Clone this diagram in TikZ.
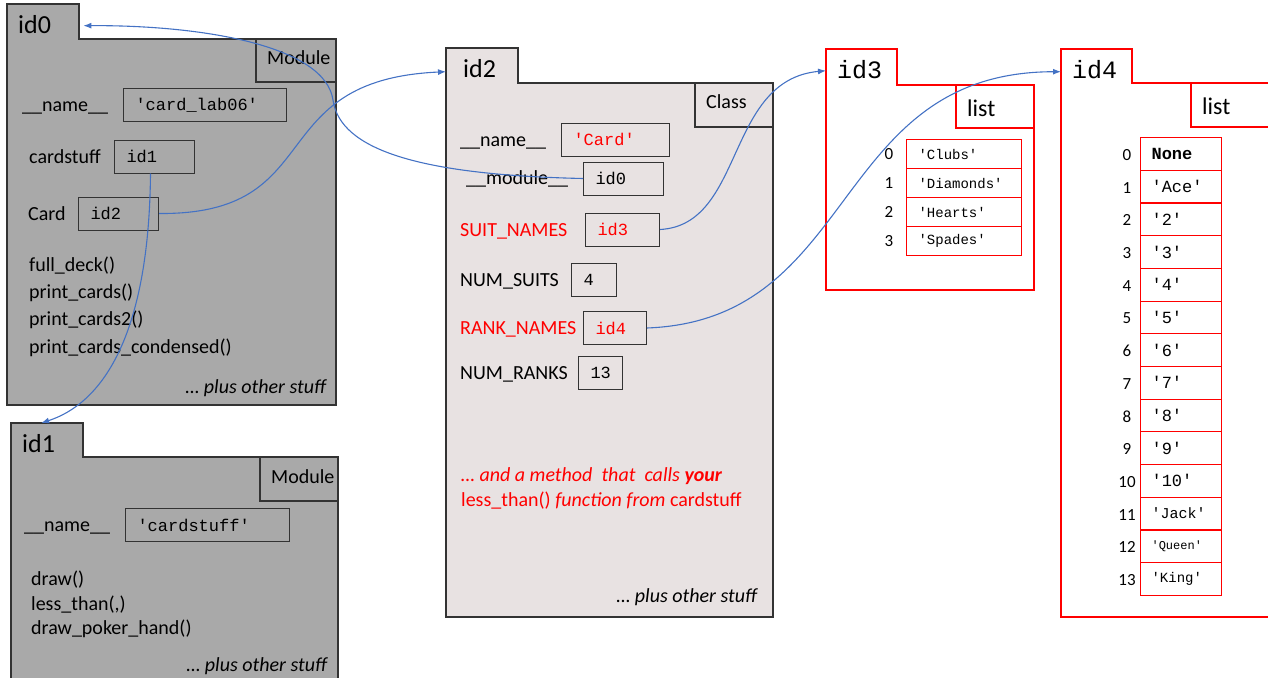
\documentclass[tikz,border=0pt]{standalone}
\usepackage{fontspec}
\setmainfont{Carlito}
\setmonofont{Liberation Mono}
\usetikzlibrary{arrows.meta}

\definecolor{modgray}{HTML}{A9A9A9}
\definecolor{clsgray}{HTML}{E8E2E2}
\definecolor{refblue}{HTML}{4472C4}
\definecolor{listred}{HTML}{FF0000}

\tikzset{
  frame/.style={draw=black!80,line width=1.3pt},
  redframe/.style={draw=listred,line width=1.5pt},
  tab/.style={anchor=north west,minimum height=35pt,inner xsep=11pt,inner ysep=0pt,
    text width=50pt,align=left,text height=24pt,text depth=0pt,font=\fontsize{26}{30}\selectfont},
  lbl/.style={anchor=west,inner sep=0pt,text height=16pt,text depth=4pt,font=\fontsize{20}{24}\selectfont},
  more/.style={lbl,anchor=east,font=\fontsize{20}{24}\selectfont\itshape},
  slot/.style={draw=black!80,line width=1pt,anchor=west,minimum height=33pt,inner xsep=12pt,
    inner ysep=0pt,align=left,font=\ttfamily\fontsize{17}{20}\selectfont},
  cell/.style={draw=listred,line width=1.1pt,anchor=north west,inner xsep=12pt,inner ysep=0pt,
    align=left,font=\ttfamily\fontsize{14}{16}\selectfont},
  idx/.style={inner sep=0pt,font=\fontsize{17}{20}\selectfont},
  ptr/.style={draw=refblue,line width=1.1pt,-{Latex[length=8pt,width=6pt]}}
}

\begin{document}
\begin{tikzpicture}[x=1pt,y=-1pt]
    \useasboundingbox (0,0) rectangle (1268,677);
    \draw [frame,fill=modgray] (7,4) -- (79,4) -- (79,39) -- (336,39) -- (336,405) -- (7,405) -- cycle;
    \draw [frame] (256,39) rectangle (336,82);
    \draw [frame,fill=modgray] (11,423) -- (83,423) -- (83,457) -- (338,457) -- (338,690) -- (11,690) -- cycle;
    \draw [frame] (260,457) rectangle (338,501);
    \draw [frame,fill=clsgray] (446,48) -- (518,48) -- (518,83) -- (773,83) -- (773,617) -- (446,617) -- cycle;
    \draw [frame] (695,83) rectangle (773,127);
    \draw [redframe] (826,49) -- (897,49) -- (897,85) -- (1034,85) -- (1034,290) -- (826,290) -- cycle;
    \draw [redframe] (956,85) rectangle (1034,128);
    \draw [redframe] (1061,49) -- (1132,49) -- (1132,83) -- (1280,83) -- (1280,617) -- (1061,617) -- cycle;
    \draw [redframe] (1191,83) rectangle (1280,127);

    \node [tab] (id0tab) at (7,4) {id0};
    \node [lbl] (ty0) at (267,58) {Module};
    \node [lbl] (nm0) at (22,105) {\_\_name\_\_};
    \node [slot,text width=139pt] (s00) at (123,105) {'card\_lab06'};
    \node [lbl] (cs0) at (29,157) {cardstuff};
    \node [slot,text width=56pt] (s01) at (114,156.5) {id1};
    \node [lbl] (cd0) at (28,214) {Card};
    \node [slot,text width=56pt] (s02) at (78,213.5) {id2};
    \node [lbl] (f0) at (29,265) {full\_deck()};
    \node [lbl] (f1) at (29,292) {print\_cards()};
    \node [lbl] (f2) at (29,319) {print\_cards2()};
    \node [lbl] (f3) at (29,347) {print\_cards\_condensed()};
    \node [more] (po0) at (326,387) {… plus other stuff};

    \node [tab] (id1tab) at (11,423) {id1};
    \node [lbl] (ty1) at (271,477) {Module};
    \node [lbl] (nm1) at (24,525) {\_\_name\_\_};
    \node [slot,text width=140pt] (s10) at (125,525) {'cardstuff'};
    \node [lbl] (g0) at (31,579) {draw()};
    \node [lbl] (g1) at (31,604) {less\_than(,)};
    \node [lbl] (g2) at (31,628) {draw\_poker\_hand()};
    \node [more] (po1) at (327,665) {… plus other stuff};

    \node [tab] (id2tab) at (446,48) {\hspace{6pt}id2};
    \node [lbl] (ty2) at (706,102) {Class};
    \node [lbl] (nm2) at (460,140) {\_\_name\_\_};
    \node [slot,text width=84pt,text=listred] (s2n) at (561,139.5) {'Card'};
    \node [lbl] (md2) at (466,178) {\_\_module\_\_};
    \node [slot,text width=56pt] (s20) at (583,178.5) {id0};
    \node [lbl,text=listred] (sn2) at (460,230) {SUIT\_NAMES};
    \node [slot,text width=50pt,text=listred] (s23) at (585,229.5) {id3};
    \node [lbl] (ns2) at (460,280) {NUM\_SUITS};
    \node [slot,text width=21pt] (s2s) at (571,279.5) {4};
    \node [lbl,text=listred] (rn2) at (460,328) {RANK\_NAMES};
    \node [slot,text width=39pt,text=listred] (s24) at (583,328) {id4};
    \node [lbl] (nr2) at (460,373) {NUM\_RANKS};
    \node [slot,text width=20pt] (s2r) at (578,372.5) {13};
    \node [lbl,text=listred] (m1) at (461,475) {\itshape … and a method\ \ that\ \ calls \textbf{your}};
    \node [lbl,text=listred] (m2) at (461,500) {less\_than() \textit{function from} cardstuff};
    \node [more] (po2) at (757,596) {… plus other stuff};

    \node [tab,font=\ttfamily\fontsize{25}{30}\selectfont] (id3tab) at (826,49) {id3};
    \node [lbl,font=\fontsize{24}{28}\selectfont] (ty3) at (967,110) {list};
    \foreach \s [count=\i from 0] in {Clubs,Diamonds,Hearts,Spades}
    {   \node [cell,minimum height=29pt,text width=91pt] (a\i) at (906,{139+29*\i}) {'\s'};
        \node [idx] (ai\i) at (889,{154+29*\i}) {\i};
    }

    \node [tab,font=\ttfamily\fontsize{25}{30}\selectfont] (id4tab) at (1061,49) {id4};
    \node [lbl,font=\fontsize{24}{28}\selectfont] (ty4) at (1202,108) {list};
    \foreach \s [count=\i from 0] in {{\textbf{None}},'Ace','2','3','4','5','6','7','8','9','10',
        {\fontsize{15}{18}\selectfont'Jack'},{\fontsize{12}{14}\selectfont'Queen'},{\fontsize{14}{16}\selectfont'King'}}
    {   \node [cell,minimum height=32.7pt,text width=59pt,inner xsep=11pt,
            font=\ttfamily\fontsize{17}{20}\selectfont] (b\i) at (1140,{137+32.7*\i}) {\s};
        \node [idx] (bi\i) at (1127,{155+32.7*\i}) {\i};
    }

    \draw [ptr] ([xshift=-4pt]s01.south) .. controls (149,340) and (100,404) .. ([xshift=-6pt]id1tab.north);
    \draw [ptr] (s02.east) .. controls (330,215) and (260,80) .. ([yshift=-6pt]id2tab.west);
    \draw [ptr] (s20.west) .. controls (420,175) and (340,150) .. (333,100)
        .. controls (325,45) and (200,25) .. ([xshift=4pt,yshift=-4pt]id0tab.east);
    \draw [ptr] (s23.east) .. controls (745,225) and (725,80) .. ([yshift=-4pt]id3tab.west);
    \draw [ptr] (s24.east) .. controls (860,320) and (830,72) .. ([yshift=-5pt]id4tab.west);
\end{tikzpicture}
\end{document}
